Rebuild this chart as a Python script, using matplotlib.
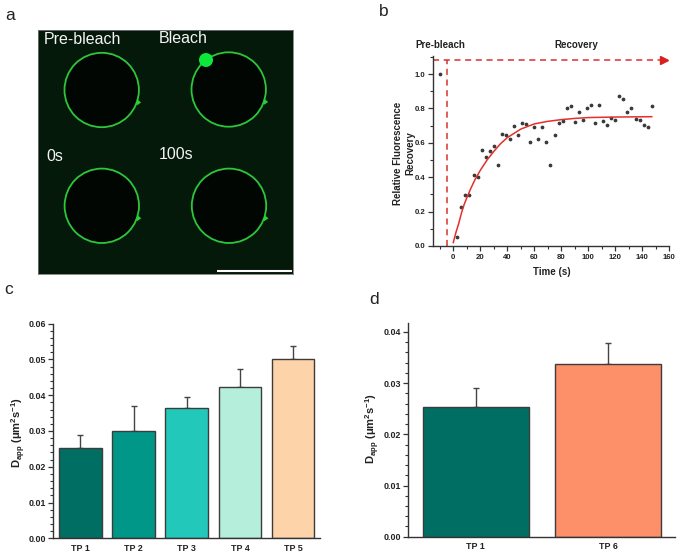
import matplotlib
matplotlib.use("Agg")
import matplotlib.pyplot as plt
from matplotlib.patches import Circle, Polygon
from matplotlib.ticker import MultipleLocator

plt.rcParams['font.family'] = ['Liberation Sans', 'DejaVu Sans']
plt.rcParams['mathtext.fontset'] = 'custom'
plt.rcParams['mathtext.rm'] = 'Liberation Sans:bold'
plt.rcParams['mathtext.it'] = 'Liberation Sans:bold'
plt.rcParams['mathtext.bf'] = 'Liberation Sans:bold'
plt.rcParams['mathtext.default'] = 'rm'

W, H = 679, 554

# panel b
frap_time = [-10, 3, 6, 9, 12, 15, 18, 21, 24, 27, 30, 33, 36, 39, 42, 45, 48, 51, 54, 57,
             60, 63, 66, 69, 72, 75, 78, 81, 84, 87, 90, 93, 96, 99, 102, 105, 108, 111,
             114, 117, 120, 123, 126, 129, 132, 135, 138, 141, 144, 147]
frap_val = [1.0, .05, .225, .295, .295, .415, .40, .56, .515, .555, .58, .47, .65, .645, .625,
            .695, .645, .715, .71, .605, .69, .625, .69, .605, .47, .645, .715, .725, .80,
            .815, .72, .78, .735, .80, .82, .715, .82, .725, .705, .745, .73, .87, .855,
            .78, .80, .74, .735, .705, .69, .815]
fit_time = [0, 2, 4, 6, 8, 10, 13, 16, 20, 25, 30, 35, 40, 45, 50, 60, 70, 80, 90, 100, 120, 147]
fit_val = [.02, .08, .13, .19, .24, .28, .335, .385, .44, .50, .55, .595, .63, .655, .68, .71,
           .725, .735, .742, .747, .75, .752]

# panel c
c_labels = ['TP 1', 'TP 2', 'TP 3', 'TP 4', 'TP 5']
c_values = [.0253, .0299, .0365, .0423, .0500]
c_upper_err = [.0037, .0070, .0030, .0049, .0038]
c_colors = ['#016e63', '#009688', '#22c9bb', '#b5efdc', '#fdd3a9']

# panel d
d_labels = ['TP 1', 'TP 6']
d_values = [.0253, .0338]
d_upper_err = [.0037, .0041]
d_colors = ['#016e63', '#fd8f69']

# panel a
panel_a_rings = [(101.7, 90), (228.7, 89.5), (101.8, 205.8), (229, 205.8)]
panel_a_text = ['Pre-bleach', 'Bleach', '0s', '100s']

DARK = '#333333'
fig = plt.figure(figsize=(W / 100, H / 100), dpi=100)


def axes_px(l, t, r, b):
    return fig.add_axes([l / W, 1 - b / H, (r - l) / W, (b - t) / H])


def label(x, y, s, **kw):
    fig.text(x / W, 1 - y / H, s, ha='center', va='center', **kw)


for x, y, s in [(10, 15, 'a'), (384, 11, 'b'), (9, 290, 'c'), (374, 300, 'd')]:
    label(x, y, s, fontsize=12.5, color='#222222')

# ---- a
ax = axes_px(38.3, 30, 293.3, 274)
ax.set_xlim(38.3, 293.3)
ax.set_ylim(274, 30)
ax.set_facecolor('#04190a')
ax.set_xticks([])
ax.set_yticks([])
for sp in ax.spines.values():
    sp.set_color('#777777')
    sp.set_linewidth(0.6)
for cx, cy in panel_a_rings:
    ax.add_patch(Circle((cx, cy), 36.5, fc='#020603', ec='none'))
    ax.add_patch(Circle((cx, cy), 37.2, fc='none', ec='#2cc63a', lw=1.3))
    ax.add_patch(Polygon([(cx + 35, cy + 9), (cx + 39.5, cy + 12.5), (cx + 35, cy + 15.5)],
                         fc='#2ad136', ec='none'))
ax.add_patch(Circle((206, 60), 7, fc='#0ce83c', ec='none'))
ax.plot([216.5, 291.5], [271, 271], color='white', lw=1.5, solid_capstyle='butt')
for (x, y), s in zip([(82, 39.5), (183, 38.5), (54.5, 157), (176, 155)], panel_a_text):
    ax.text(x, y, s, color='#f4f4f4', fontsize=11.5, ha='center', va='center')


def style(a, size=6.4):
    a.spines['top'].set_visible(False)
    a.spines['right'].set_visible(False)
    for k in ('left', 'bottom'):
        a.spines[k].set_color(DARK)
        a.spines[k].set_linewidth(1.0)
    a.tick_params(axis='both', which='major', length=3.5, width=0.9, color=DARK, labelsize=size, pad=2)
    a.tick_params(axis='both', which='minor', length=2, width=0.8, color=DARK)
    for t in a.get_xticklabels() + a.get_yticklabels():
        t.set_fontweight('bold')
        t.set_color('#222222')


# ---- b
ax = axes_px(433.3, 56, 669.3, 246)
ax.set_xlim(-14.8, 160)
ax.set_ylim(0, 1.105)
ax.plot(frap_time, frap_val, ls='none', marker='o', ms=1.7, color='#3a3a3a')
ax.plot(fit_time, fit_val, color='#e2302c', lw=1.1)
ax.plot([-5, -5], [0, 1.083], color='#d9322e', lw=1.1, dashes=(4, 3))
ax.plot([-14.8, 154], [1.083, 1.083], color='#d9322e', lw=1.1, dashes=(4, 3), clip_on=False)
ax.plot([156], [1.083], marker='>', ms=5.5, color='#d8201c', clip_on=False, ls='none')
ax.set_xticks(range(0, 161, 20))
ax.set_yticks([0, .2, .4, .6, .8, 1.0])
ax.xaxis.set_minor_locator(MultipleLocator(10))
ax.yaxis.set_minor_locator(MultipleLocator(.1))
style(ax, 5.6)
label(552, 272, 'Time (s)', fontsize=7, fontweight='bold', color='#222222')
label(404, 153, 'Relative Fluorescence\nRecovery', fontsize=7, fontweight='bold', rotation=90,
      color='#222222', linespacing=1.25)
label(440, 44.5, 'Pre-bleach', fontsize=7, fontweight='bold', color='#222222')
label(576.7, 44.5, 'Recovery', fontsize=7, fontweight='bold', color='#222222')


def bars(a, labels, values, err, colors):
    xs = list(range(1, len(values) + 1))
    a.errorbar(xs, values, yerr=[[0] * len(err), err], fmt='none', ecolor='#444444', elinewidth=1.0,
               capsize=2.2, capthick=1.0, zorder=1)
    a.bar(xs, values, width=0.8, color=colors, edgecolor='#3c3c3c', linewidth=1.0, zorder=2)
    a.set_xticks(xs)
    a.set_xticklabels(labels)
    a.set_xlim(xs[0] - 0.51, xs[-1] + 0.506)
    a.yaxis.set_minor_locator(MultipleLocator(.002))


# ---- c
ax = axes_px(53.3, 323.7, 320, 538.3)
bars(ax, c_labels, c_values, c_upper_err, c_colors)
ax.set_ylim(0, .06)
ax.set_yticks([0, .01, .02, .03, .04, .05, .06])
ax.set_yticklabels(['0.00', '0.01', '0.02', '0.03', '0.04', '0.05', '0.06'])
style(ax)
ax.tick_params(axis='x', length=0, pad=4)
label(19, 432, r'$\mathrm{D_{app}}$ ($\mathrm{\mu m^{2}s^{-1}}$)', fontsize=8, rotation=90, color='#222222',
      fontweight='bold')

# ---- d
ax = axes_px(408.3, 322.7, 675, 536.7)
bars(ax, d_labels, d_values, d_upper_err, d_colors)
ax.set_ylim(0, .0418)
ax.set_yticks([0, .01, .02, .03, .04])
ax.set_yticklabels(['0.00', '0.01', '0.02', '0.03', '0.04'])
style(ax)
ax.tick_params(axis='x', length=0, pad=3.5)
label(373, 428, r'$\mathrm{D_{app}}$ ($\mathrm{\mu m^{2}s^{-1}}$)', fontsize=8, rotation=90, color='#222222',
      fontweight='bold')

fig.savefig('out.png', dpi=100)
